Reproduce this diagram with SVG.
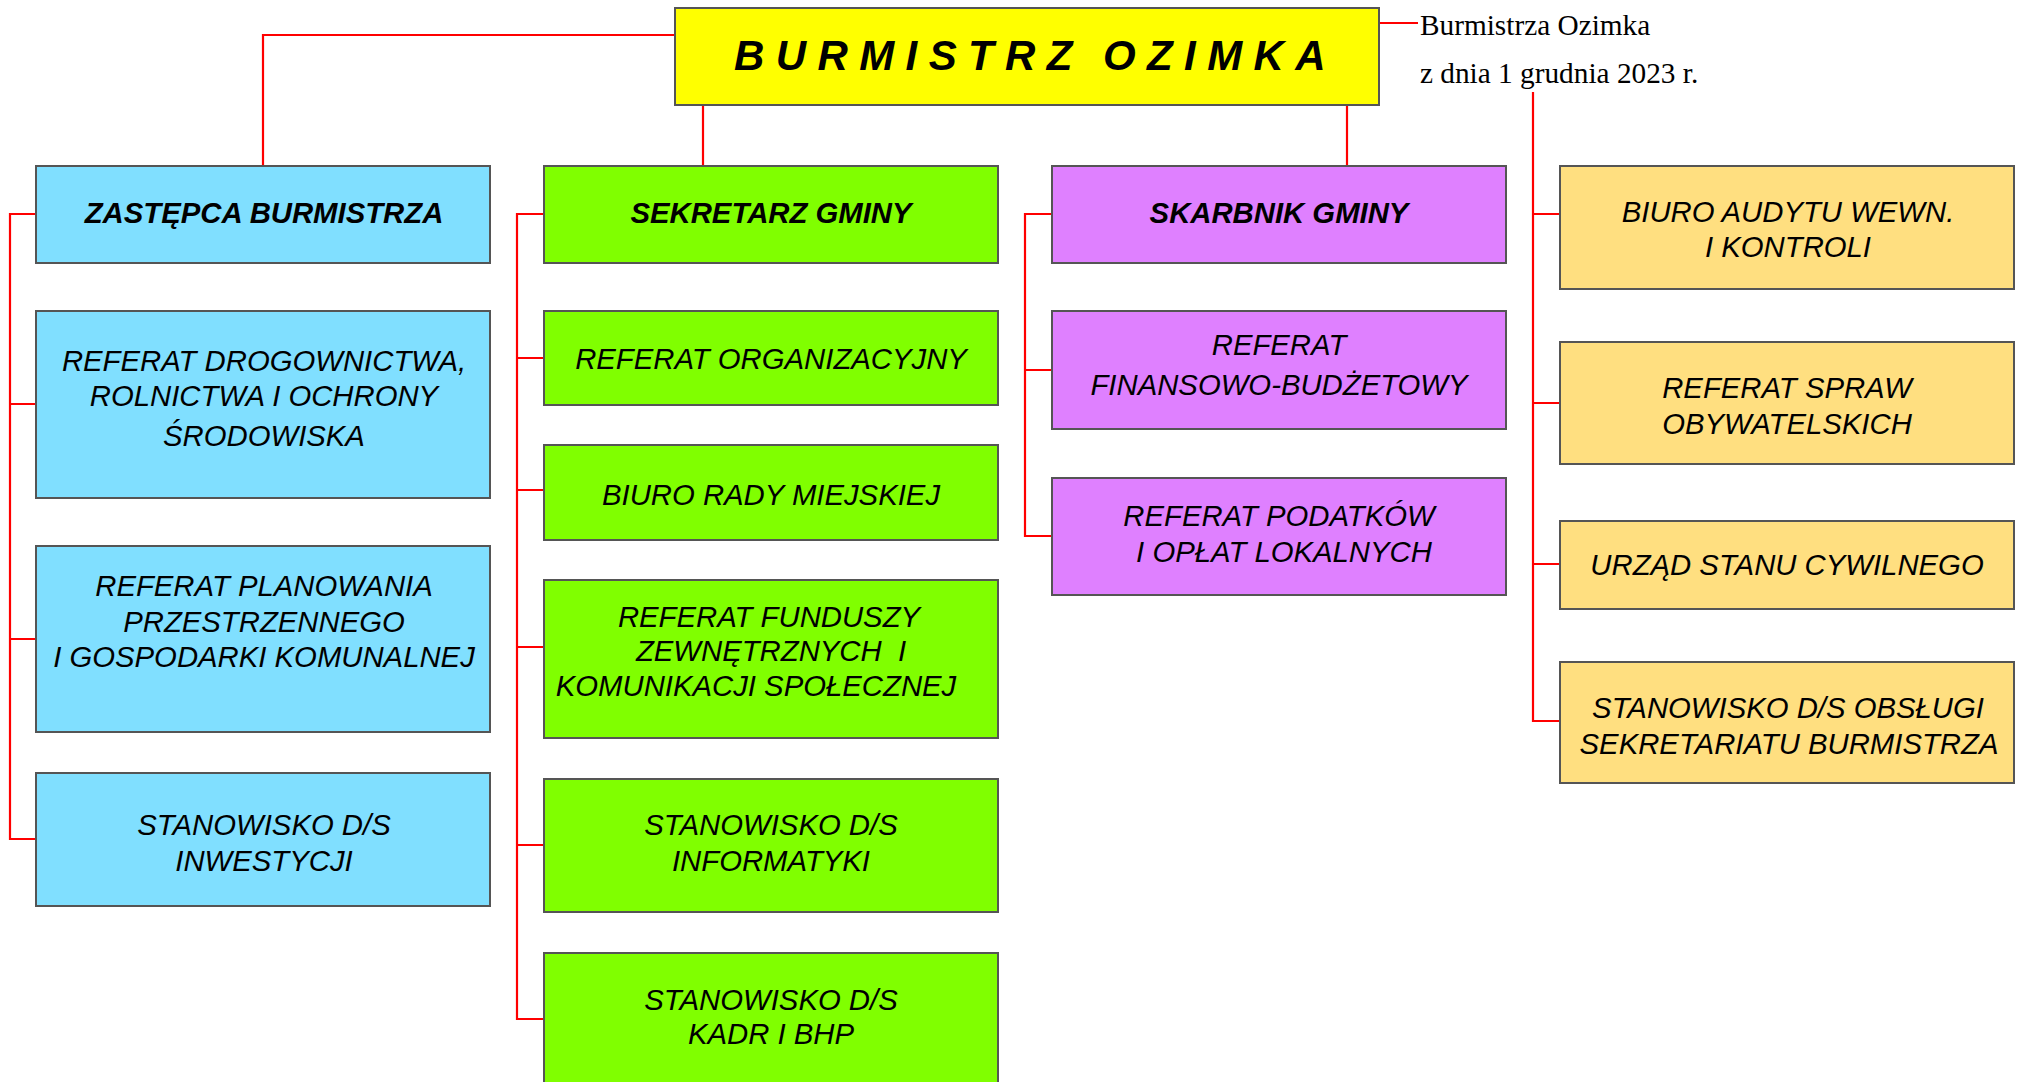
<svg xmlns="http://www.w3.org/2000/svg" width="2024" height="1082" viewBox="0 0 2024 1082">
<style>
.bx{stroke:#555;stroke-width:2}
.main{fill:#ffff00}
.blue{fill:#80dfff}
.green{fill:#80ff00}
.purple{fill:#df80ff}
.orange{fill:#ffdf80}
.t{font-family:"Liberation Sans",Arial,sans-serif;font-style:italic;font-size:29.3px;fill:#000;text-anchor:middle}
.tb{font-weight:bold}
.big{font-family:"Liberation Sans",Arial,sans-serif;font-style:italic;font-weight:bold;font-size:42px;letter-spacing:11.4px;word-spacing:-4px;fill:#000}
.date{font-family:"Liberation Serif","Times New Roman",serif;font-size:29.3px;fill:#000}
.con{stroke:#ff0000;stroke-width:2.2;fill:none}
</style>
<rect width="2024" height="1082" fill="#fff"/>
<g id="connectors" class="con">
<path d="M675 35H263V166"/>
<path d="M703 105V166"/>
<path d="M1347 105V166"/>
<path d="M1379 23H1418"/>
<path d="M36 214H10V839H36M10 404H36M10 639H36"/>
<path d="M544 214H517V1019H544M517 358H544M517 490H544M517 647H544M517 845H544"/>
<path d="M1052 214H1025V536H1052M1025 370H1052"/>
<path d="M1533 92V721H1560M1533 214H1560M1533 403H1560M1533 564H1560"/>
</g>
<g id="burmistrz">
<rect class="bx main" x="675" y="8" width="704" height="97"/>
<text class="big" x="734" y="70">BURMISTRZ OZIMKA</text>
</g>
<g id="zarzadzenie">
<text class="date" x="1420" y="35">Burmistrza Ozimka</text>
<text class="date" x="1420" y="83">z dnia 1 grudnia 2023 r.</text>
</g>
<g id="zastepca">
<rect class="bx blue" x="36" y="166" width="454" height="97"/>
<text class="t tb" x="264" y="223">ZASTĘPCA BURMISTRZA</text>
</g>
<g id="ref-drogownictwa">
<rect class="bx blue" x="36" y="311" width="454" height="187"/>
<text class="t" x="264" y="371">REFERAT DROGOWNICTWA,</text>
<text class="t" x="264" y="406">ROLNICTWA I OCHRONY</text>
<text class="t" x="264" y="446">ŚRODOWISKA</text>
</g>
<g id="ref-planowania">
<rect class="bx blue" x="36" y="546" width="454" height="186"/>
<text class="t" x="264" y="596">REFERAT PLANOWANIA</text>
<text class="t" x="264" y="632">PRZESTRZENNEGO</text>
<text class="t" x="264" y="667">I GOSPODARKI KOMUNALNEJ</text>
</g>
<g id="st-inwestycji">
<rect class="bx blue" x="36" y="773" width="454" height="133"/>
<text class="t" x="264" y="835">STANOWISKO D/S</text>
<text class="t" x="264" y="871">INWESTYCJI</text>
</g>
<g id="sekretarz">
<rect class="bx green" x="544" y="166" width="454" height="97"/>
<text class="t tb" x="771" y="223">SEKRETARZ GMINY</text>
</g>
<g id="ref-organizacyjny">
<rect class="bx green" x="544" y="311" width="454" height="94"/>
<text class="t" x="771" y="369">REFERAT ORGANIZACYJNY</text>
</g>
<g id="biuro-rady">
<rect class="bx green" x="544" y="445" width="454" height="95"/>
<text class="t" x="771" y="505">BIURO RADY MIEJSKIEJ</text>
</g>
<g id="ref-funduszy">
<rect class="bx green" x="544" y="580" width="454" height="158"/>
<text class="t" x="769" y="627">REFERAT FUNDUSZY</text>
<text class="t" x="771" y="661" xml:space="preserve">ZEWNĘTRZNYCH  I</text>
<text class="t" x="756" y="696">KOMUNIKACJI SPOŁECZNEJ</text>
</g>
<g id="st-informatyki">
<rect class="bx green" x="544" y="779" width="454" height="133"/>
<text class="t" x="771" y="835">STANOWISKO D/S</text>
<text class="t" x="771" y="871">INFORMATYKI</text>
</g>
<g id="st-kadr">
<rect class="bx green" x="544" y="953" width="454" height="140"/>
<text class="t" x="771" y="1010">STANOWISKO D/S</text>
<text class="t" x="771" y="1044">KADR I BHP</text>
</g>
<g id="skarbnik">
<rect class="bx purple" x="1052" y="166" width="454" height="97"/>
<text class="t tb" x="1279" y="223">SKARBNIK GMINY</text>
</g>
<g id="ref-finansowy">
<rect class="bx purple" x="1052" y="311" width="454" height="118"/>
<text class="t" x="1279" y="355">REFERAT</text>
<text class="t" x="1279" y="395">FINANSOWO-BUDŻETOWY</text>
</g>
<g id="ref-podatkow">
<rect class="bx purple" x="1052" y="478" width="454" height="117"/>
<text class="t" x="1279" y="526">REFERAT PODATKÓW</text>
<text class="t" x="1284" y="562">I OPŁAT LOKALNYCH</text>
</g>
<g id="biuro-audytu">
<rect class="bx orange" x="1560" y="166" width="454" height="123"/>
<text class="t" x="1788" y="222">BIURO AUDYTU WEWN.</text>
<text class="t" x="1788" y="257">I KONTROLI</text>
</g>
<g id="ref-spraw">
<rect class="bx orange" x="1560" y="342" width="454" height="122"/>
<text class="t" x="1787" y="398">REFERAT SPRAW</text>
<text class="t" x="1787" y="434">OBYWATELSKICH</text>
</g>
<g id="usc">
<rect class="bx orange" x="1560" y="521" width="454" height="88"/>
<text class="t" x="1787" y="575">URZĄD STANU CYWILNEGO</text>
</g>
<g id="st-sekretariatu">
<rect class="bx orange" x="1560" y="662" width="454" height="121"/>
<text class="t" x="1788" y="718">STANOWISKO D/S OBSŁUGI</text>
<text class="t" x="1789" y="754">SEKRETARIATU BURMISTRZA</text>
</g>
</svg>
